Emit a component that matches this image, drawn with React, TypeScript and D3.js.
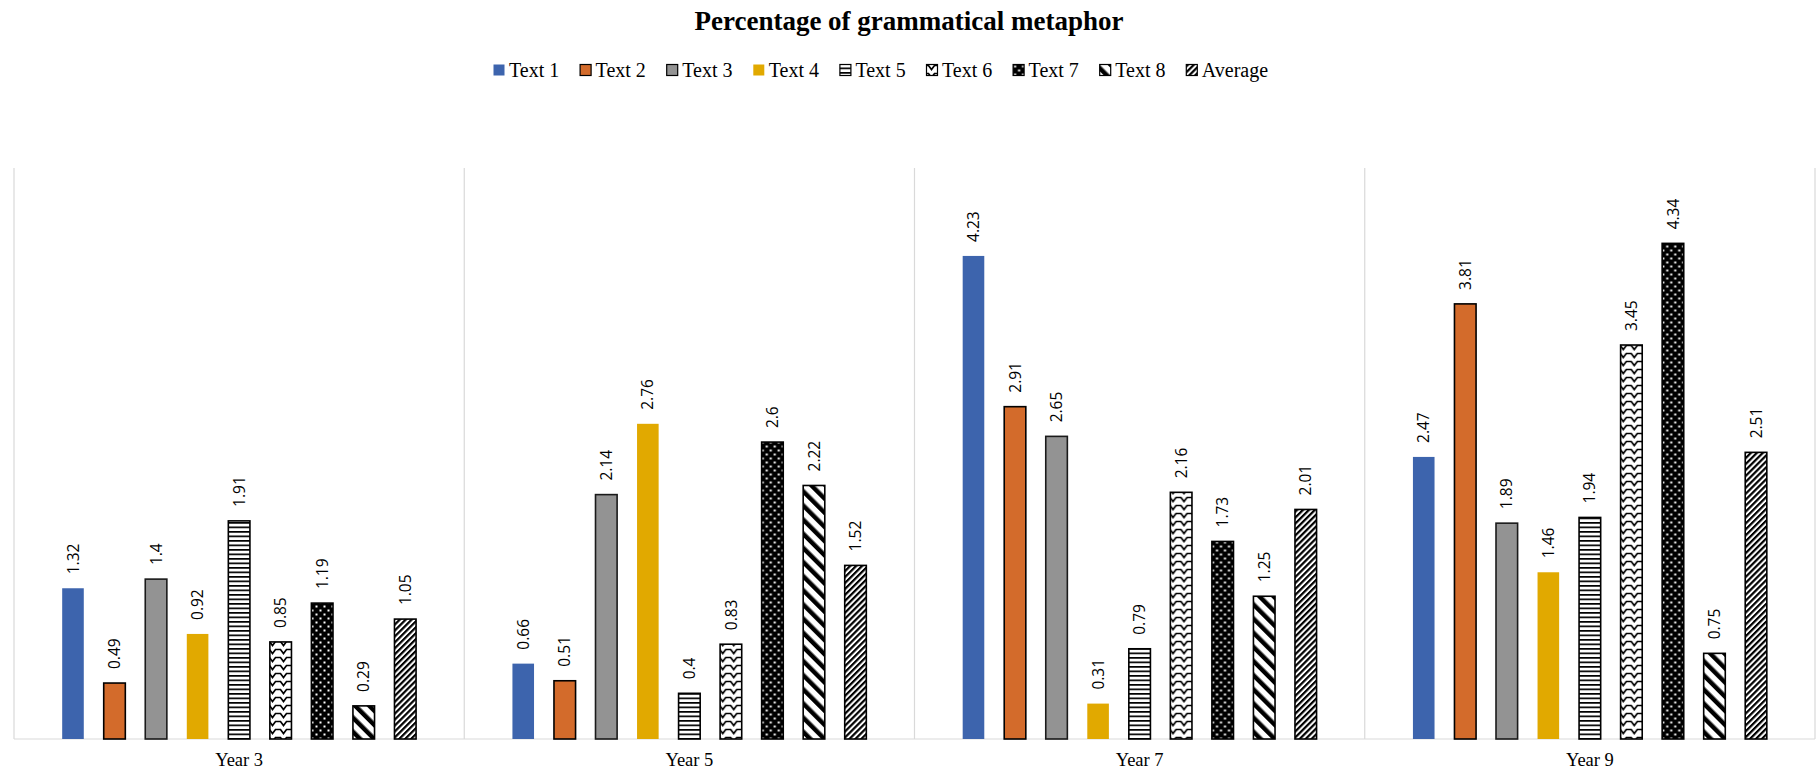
import React from "react";
import * as d3 from "d3";

const title = "Percentage of grammatical metaphor";
const categories = ["Year 3", "Year 5", "Year 7", "Year 9"];
const seriesNames = ["Text 1", "Text 2", "Text 3", "Text 4", "Text 5", "Text 6", "Text 7", "Text 8", "Average"];
const text1 = [1.32, 0.66, 4.23, 2.47];
const text2 = [0.49, 0.51, 2.91, 3.81];
const text3 = [1.4, 2.14, 2.65, 1.89];
const text4 = [0.92, 2.76, 0.31, 1.46];
const text5 = [1.91, 0.4, 0.79, 1.94];
const text6 = [0.85, 0.83, 2.16, 3.45];
const text7 = [1.19, 2.6, 1.73, 4.34];
const text8 = [0.29, 2.22, 1.25, 0.75];
const average = [1.05, 1.52, 2.01, 2.51];
const seriesValues = [text1, text2, text3, text4, text5, text6, text7, text8, average];

const W = 1818;
const H = 770;
const plot = { left: 14, right: 1815, top: 168, bottom: 739 };

const fills = [
  "#3D64AD",
  "#D36B2B",
  "#939393",
  "#E1A900",
  "url(#p5)",
  "url(#p6)",
  "url(#p7)",
  "url(#p8)",
  "url(#p9)",
];
const strokes = ["none", "#000", "#1a1a1a", "none", "#000", "#000", "#000", "#000", "#000"];

export default function App() {
  const x0 = d3.scaleBand<string>().domain(categories).range([plot.left, plot.right]).paddingInner(0).paddingOuter(0);
  const x1 = d3
    .scaleBand<string>()
    .domain(seriesNames)
    .range([0, x0.bandwidth()])
    .paddingInner(0.48)
    .paddingOuter(1.16);
  const y = d3.scaleLinear().domain([0, 5]).range([plot.bottom, plot.top]);
  const bw = x1.bandwidth();

  const boundaries = [...categories.map((c) => x0(c) as number), plot.right];

  const legendStart = 493;
  const legendStep = 86.6;

  return (
    <svg
      width={W}
      height={H}
      style={{ position: "absolute", left: 0, top: 0, background: "#fff" }}
      xmlns="http://www.w3.org/2000/svg"
    >
      <defs>
        <pattern id="p5" patternUnits="userSpaceOnUse" width="6" height="4.5">
          <rect width="6" height="4.5" fill="#fff" />
          <rect y="0" width="6" height="1.7" fill="#000" />
        </pattern>
        <pattern id="p6" patternUnits="userSpaceOnUse" width="11" height="8">
          <rect width="11" height="8" fill="#fff" />
          <path d="M0,1.5 L2.5,1.5 L5.5,5.5 L8.5,1.5 L11,1.5" fill="none" stroke="#000" strokeWidth="1.7" />
        </pattern>
        <pattern id="p7" patternUnits="userSpaceOnUse" width="8" height="8">
          <rect width="8" height="8" fill="#000" />
          <rect x="1.5" y="1.5" width="2" height="2" fill="#fff" />
          <rect x="5.5" y="5.5" width="2" height="2" fill="#fff" />
        </pattern>
        <pattern id="p8" patternUnits="userSpaceOnUse" width="10" height="10" patternTransform="rotate(-45)">
          <rect width="10" height="10" fill="#fff" />
          <rect x="0" y="0" width="4.5" height="10" fill="#000" />
        </pattern>
        <pattern id="p9" patternUnits="userSpaceOnUse" width="4.2" height="10" patternTransform="rotate(45)">
          <rect width="4.2" height="10" fill="#fff" />
          <rect x="0" y="0" width="2.2" height="10" fill="#000" />
        </pattern>
      </defs>

      <text
        x={W / 2}
        y={30}
        textAnchor="middle"
        fontFamily="'Liberation Serif', 'Times New Roman', serif"
        fontWeight="bold"
        fontSize={27}
        fill="#000"
      >
        {title}
      </text>

      <g>
        {seriesNames.map((s, i) => (
          <g key={s} transform={`translate(${legendStart + i * legendStep},0)`}>
            <rect
              x={0.5}
              y={64.5}
              width={11}
              height={11}
              fill={fills[i]}
              stroke={strokes[i] === "none" ? "none" : "#000"}
              strokeWidth={1.2}
            />
            <text
              x={16}
              y={77}
              fontFamily="'Liberation Serif', 'Times New Roman', serif"
              fontSize={20}
              fill="#000"
            >
              {s}
            </text>
          </g>
        ))}
      </g>

      <g stroke="#d9d9d9" strokeWidth={1.2}>
        {boundaries.map((bx, i) => (
          <line key={i} x1={bx} x2={bx} y1={plot.top} y2={plot.bottom} />
        ))}
        <line x1={plot.left} x2={plot.right} y1={plot.bottom} y2={plot.bottom} />
      </g>

      {categories.map((c, ci) => (
        <g key={c} transform={`translate(${x0(c)},0)`}>
          {seriesNames.map((s, si) => {
            const v = seriesValues[si][ci];
            const bx = x1(s) as number;
            const top = y(v);
            const st = strokes[si];
            return (
              <g key={s}>
                <rect
                  x={bx}
                  y={top}
                  width={bw}
                  height={plot.bottom - top}
                  fill={fills[si]}
                  stroke={st}
                  strokeWidth={st === "none" ? 0 : 1.6}
                />
                <text
                  transform={`translate(${bx + bw / 2},${top - 14}) rotate(-90)`}
                  dy="0.36em"
                  textAnchor="start"
                  fontFamily="'Open Sans', 'DejaVu Sans', sans-serif"
                  fontSize={15.5}
                  fill="#000"
                >
                  {String(v)}
                </text>
              </g>
            );
          })}
          <text
            x={x0.bandwidth() / 2}
            y={766}
            textAnchor="middle"
            fontFamily="'Liberation Serif', 'Times New Roman', serif"
            fontSize={18.5}
            fill="#000"
          >
            {c}
          </text>
        </g>
      ))}
    </svg>
  );
}
